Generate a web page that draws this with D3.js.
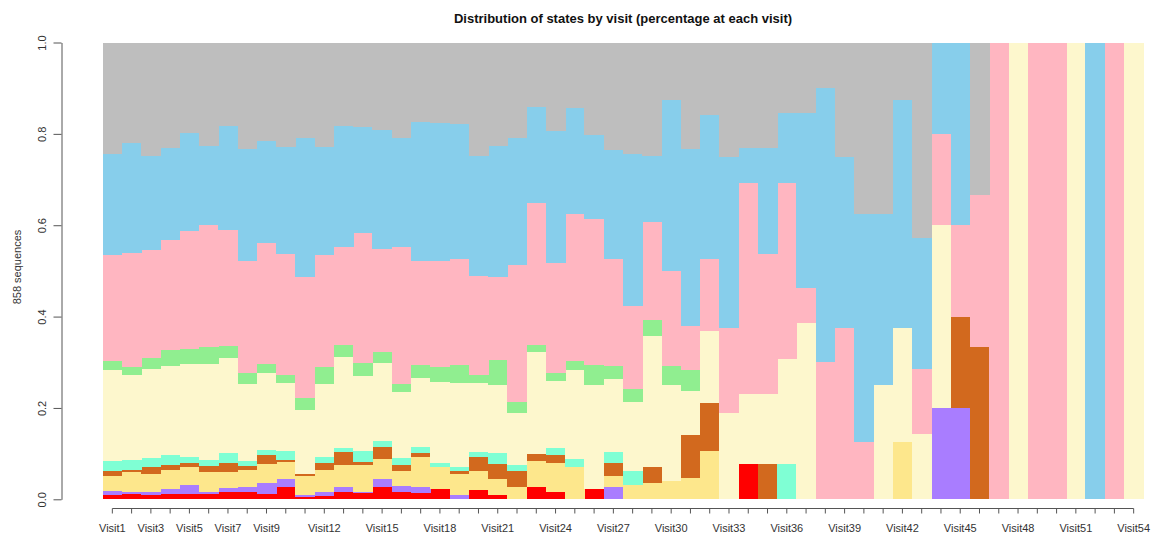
<!DOCTYPE html>
<html>
<head>
<meta charset="utf-8">
<script src="https://cdn.jsdelivr.net/npm/d3@7"></script>
<style>
  body { margin: 0; background: #fff; }
  text { font-family: "Liberation Sans", Arial, sans-serif; fill: #333; }
</style>
</head>
<body>
<div id="chart"></div>
<script>
// states, bottom to top
var states = ["red", "purple", "khaki", "chocolate", "aquamarine", "cream", "lightgreen", "pink", "skyblue", "gray"];
var stateColors = ["#ff0000", "#a97dff", "#fde78c", "#d2691e", "#7fffd4", "#fdf7cd", "#90ee90", "#ffb6c1", "#87ceeb", "#bebebe"];

var visits = d3.range(1, 55).map(function(i) { return "Visit" + i; });
var shownLabels = ["Visit1", "Visit3", "Visit5", "Visit7", "Visit9", "Visit12", "Visit15", "Visit18", "Visit21",
  "Visit24", "Visit27", "Visit30", "Visit33", "Visit36", "Visit39", "Visit42", "Visit45", "Visit48", "Visit51", "Visit54"];
var yTicks = [0, 0.2, 0.4, 0.6, 0.8, 1.0];

// share of each state at each visit
var red = [0.010,0.011,0.009,0.012,0.012,0.011,0.017,0.016,0.012,0.028, 0.004,0.007,0.015,0.013,0.028,0.017,0.013,0.023,0,0.020,
  0.009,0,0.026,0.015,0,0.022,0,0,0,0, 0,0,0,0.077,0,0,0,0,0,0, 0,0,0,0,0,0,0,0,0,0, 0,0,0,0];
var purple = [0.009,0.006,0.007,0.010,0.019,0.005,0.008,0.010,0.024,0.017, 0.006,0.010,0.011,0.004,0.016,0.012,0.013,0,0.009,0,
  0,0,0,0,0,0,0.026,0,0,0, 0,0,0,0,0,0,0,0,0,0, 0,0,0,0.2,0.2,0,0,0,0,0, 0,0,0,0];
var khaki = [0.033,0.043,0.040,0.042,0.039,0.044,0.035,0.038,0.042,0.036, 0.041,0.047,0.049,0.059,0.044,0.033,0.067,0.048,0.046,0.043,
  0.035,0.026,0.058,0.065,0.071,0,0.026,0.031,0.035,0.041, 0.047,0.105,0,0,0,0,0,0,0,0, 0,0.125,0,0,0,0,0,0,0,0, 0,0,0,0];
var chocolate = [0.009,0.004,0.014,0.011,0.009,0.013,0.019,0.009,0.018,0.006, 0.005,0.015,0.028,0.005,0.026,0.012,0.008,0,0.007,0.030,
  0.033,0.037,0.015,0.017,0,0,0.027,0,0.036,0, 0.094,0.105,0,0,0.077,0,0,0,0,0, 0,0,0,0,0.2,0.333,0,0,0,0, 0,0,0,0];
var aquamarine = [0.022,0.022,0.020,0.023,0.013,0.014,0.022,0.011,0.012,0.018, 0,0.014,0.009,0.024,0.014,0.016,0.014,0.009,0.009,0.010,
  0.024,0.011,0,0.016,0.017,0,0.025,0.030,0,0, 0,0,0,0,0,0.077,0,0,0,0, 0,0,0,0,0,0,0,0,0,0, 0,0,0,0];
var cream = [0.200,0.187,0.196,0.194,0.205,0.209,0.208,0.169,0.169,0.150, 0.140,0.160,0.200,0.164,0.171,0.144,0.150,0.177,0.183,0.152,
  0.149,0.114,0.224,0.145,0.196,0.228,0.159,0.153,0.286,0.209, 0.097,0.158,0.188,0.154,0.154,0.231,0.385,0,0,0,
  0.25,0.25,0.143,0.4,0,0,0,1,0,0, 1,0,0,1];
var lightgreen = [0.020,0.017,0.023,0.035,0.032,0.037,0.026,0.024,0.020,0.018, 0.026,0.037,0.025,0.030,0.024,0.018,0.029,0.033,0.041,0.017,
  0.055,0.026,0.015,0.018,0.019,0.044,0.029,0.027,0.035,0.042, 0.045,0,0,0,0,0,0,0,0,0, 0,0,0,0,0,0,0,0,0,0, 0,0,0,0];
var pink = [0.232,0.250,0.236,0.241,0.258,0.267,0.254,0.244,0.265,0.265, 0.264,0.245,0.215,0.285,0.224,0.301,0.228,0.231,0.231,0.217,
  0.181,0.299,0.310,0.242,0.321,0.319,0.235,0.183,0.214,0.208, 0.096,0.158,0.187,0.461,0.307,0.384,0.077,0.300,0.375,0.125,
  0,0,0.143,0.2,0.2,0.334,1,0,1,1, 0,0,1,0];
var skyblue = [0.221,0.241,0.207,0.201,0.215,0.174,0.229,0.246,0.223,0.234, 0.306,0.237,0.265,0.231,0.261,0.237,0.304,0.302,0.295,0.262,
  0.287,0.277,0.211,0.289,0.232,0.184,0.237,0.332,0.145,0.375, 0.387,0.316,0.375,0.077,0.231,0.154,0.384,0.600,0.375,0.5,
  0.375,0.5,0.285,0.2,0.4,0,0,0,0,0, 0,1,0,0];
var gray = [0.244,0.219,0.248,0.231,0.198,0.226,0.182,0.233,0.215,0.228, 0.208,0.228,0.183,0.185,0.192,0.210,0.174,0.177,0.179,0.249,
  0.227,0.210,0.141,0.193,0.144,0.203,0.236,0.244,0.249,0.125, 0.234,0.158,0.250,0.231,0.231,0.154,0.154,0.100,0.25,0.375,
  0.375,0.125,0.429,0,0,0.333,0,0,0,0, 0,0,0,0];

var series = [red, purple, khaki, chocolate, aquamarine, cream, lightgreen, pink, skyblue, gray];

var svgWidth = 1152;
var svgHeight = 535;
var plotLeft = 102.7, plotRight = 1143.3, plotTop = 42.5, plotBottom = 499.3;

var rows = visits.map(function(v, i) {
  var row = { visit: v };
  states.forEach(function(s, k) { row[s] = series[k][i]; });
  return row;
});

var stacked = d3.stack()
  .keys(states)
  .offset(d3.stackOffsetExpand)(rows);

var svg = d3.select("#chart")
  .append("svg")
  .attr("width", svgWidth)
  .attr("height", svgHeight);

var x = d3.scaleBand()
  .domain(visits)
  .range([plotLeft, plotRight])
  .padding(0);

var y = d3.scaleLinear()
  .domain([0, 1])
  .range([plotBottom, plotTop]);

var color = d3.scaleOrdinal().domain(states).range(stateColors);

// bars
svg.append("g")
  .selectAll("g")
  .data(stacked)
  .enter()
  .append("g")
  .attr("fill", function(d) { return color(d.key); })
  .selectAll("rect")
  .data(function(d) { return d; })
  .enter()
  .append("rect")
  .attr("x", function(d) { return x(d.data.visit); })
  .attr("width", x.bandwidth() + 0.4)
  .attr("y", function(d) { return y(d[1]); })
  .attr("height", function(d) { return Math.max(0, y(d[0]) - y(d[1])); })
  .attr("shape-rendering", "crispEdges");

// y axis
var yAxis = d3.axisLeft(y)
  .tickValues(yTicks)
  .tickFormat(d3.format(".1f"))
  .tickSize(8)
  .tickSizeOuter(0);

var yg = svg.append("g")
  .attr("transform", "translate(61.5,0)")
  .call(yAxis);
yg.select(".domain").attr("stroke", "#555");
yg.selectAll(".tick line").attr("stroke", "#555");
yg.selectAll(".tick text")
  .attr("font-size", "11px")
  .attr("fill", "#333")
  .attr("transform", "rotate(-90)")
  .attr("x", 0)
  .attr("y", -19)
  .attr("dy", "0.35em")
  .style("text-anchor", "middle");

// x axis
var xAxis = d3.axisBottom(x)
  .tickFormat(function(d) { return shownLabels.indexOf(d) >= 0 ? d : ""; })
  .tickSize(5)
  .tickSizeOuter(0);

var xg = svg.append("g")
  .attr("transform", "translate(0,508.5)")
  .call(xAxis);
xg.select(".domain")
  .attr("stroke", "#555")
  .attr("d", "M" + (x(visits[0]) + x.bandwidth() / 2) + ",0H" + (x(visits[53]) + x.bandwidth() / 2));
xg.selectAll(".tick line").attr("stroke", "#555");
xg.selectAll(".tick text")
  .attr("font-size", "11px")
  .attr("fill", "#333")
  .attr("y", 16);

// labels
svg.append("text")
  .attr("x", 623)
  .attr("y", 22.5)
  .attr("font-size", "13px")
  .attr("font-weight", "bold")
  .style("text-anchor", "middle")
  .style("fill", "#111")
  .text("Distribution of states by visit (percentage at each visit)");

svg.append("text")
  .attr("transform", "translate(21,267) rotate(-90)")
  .attr("font-size", "11px")
  .style("text-anchor", "middle")
  .text("858 sequences");
</script>
</body>
</html>
